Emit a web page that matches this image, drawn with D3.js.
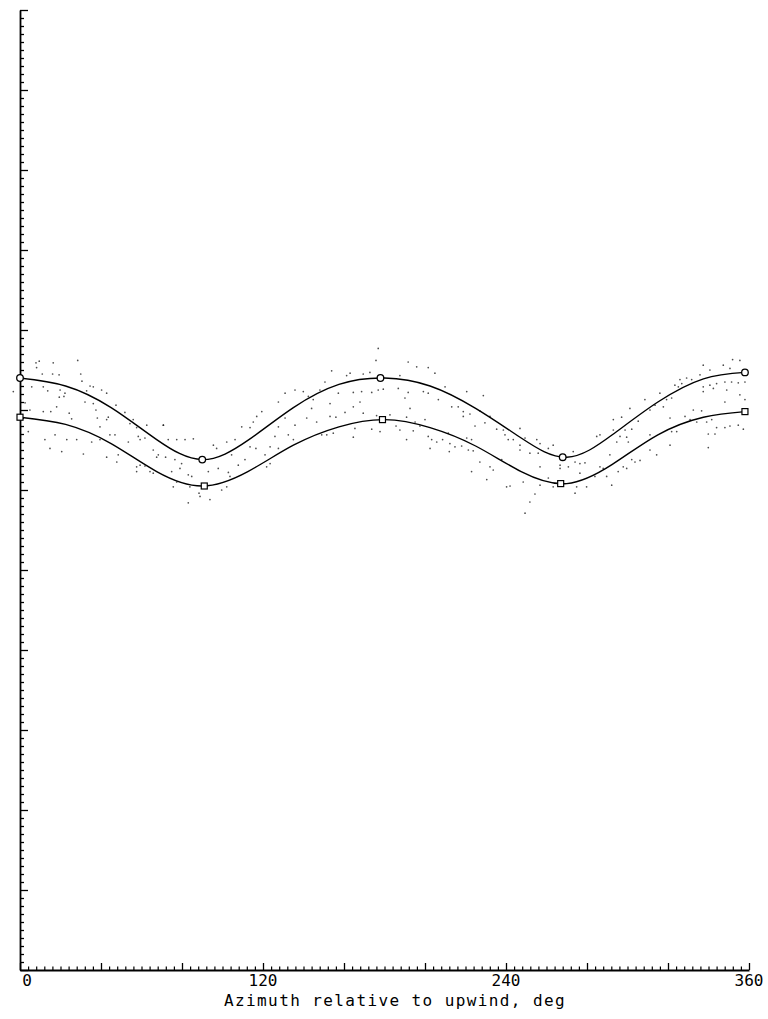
<!DOCTYPE html>
<html>
<head>
<meta charset="utf-8">
<script src="https://cdn.jsdelivr.net/npm/d3@7"></script>
<style>
	body { margin: 0; background: #fff; }
	svg { display: block; }
	.axis path, .axis line { stroke: #000; }
	.label { font-family: 'DejaVu Sans Mono', monospace; font-size: 16px; fill: #000; }
</style>
</head>
<body>
<svg id="chart"></svg>
<script>

// tick labels on the azimuth axis
const xTickLabels = [0, 120, 240, 360]

// faired curves (azimuth deg, value)
const upperCurve = [
	[0, 7.40], [22.5, 7.30], [45, 7.03], [67.5, 6.63], [90, 6.38], [112.5, 6.62],
	[135, 7.03], [157.5, 7.32], [180, 7.40], [202.5, 7.30], [225, 7.02], [247.5, 6.65],
	[270, 6.41], [292.5, 6.69], [315, 7.10], [337.5, 7.39], [358, 7.47]
]

const lowerCurve = [
	[0, 6.91], [22.5, 6.82], [45, 6.58], [67.5, 6.23], [90, 6.05], [112.5, 6.23],
	[135, 6.56], [157.5, 6.79], [180, 6.88], [202.5, 6.78], [225, 6.55], [247.5, 6.23],
	[270, 6.08], [292.5, 6.32], [315, 6.69], [337.5, 6.91], [358, 6.98]
]

// symbols on the curves
const upperMarks = [[0, 7.40], [90, 6.38], [178, 7.40], [268, 6.41], [358, 7.47]]
const lowerMarks = [[0, 6.91], [91, 6.05], [179, 6.88], [267, 6.08], [358, 6.98]]

// raw scatter (azimuth deg, value)
const dots = [
	[7.9,7.59],[9.5,7.61],[16.4,7.59],[28.5,7.62],[8.2,7.53],[11.0,7.45],[16.1,7.45],[19.3,7.44],
	[30.6,7.36],[30.0,7.45],[-3.3,7.23],[5.8,7.29],[11.5,7.29],[13.7,7.24],[19.8,7.25],[22.2,7.21],
	[19.4,7.16],[21.7,7.17],[34.6,7.30],[36.2,7.29],[32.9,7.24],[40.3,7.25],[42.8,7.21],[32.1,7.10],
	[36.2,7.08],[2.5,7.09],[4.9,7.00],[11.5,6.98],[18.1,7.04],[24.3,6.96],[25.5,6.89],[15.2,6.98],
	[37.5,7.00],[42.8,6.88],[43.6,6.91],[47.4,7.06],[51.8,6.97],[54.3,6.83],[55.9,6.88],[57.6,6.78],
	[62.6,6.81],[70.8,6.81],[38.2,6.90],[39.5,6.79],[44.4,6.69],[46.9,6.69],[39.5,6.63],[35.4,6.60],
	[28.0,6.63],[23.1,6.63],[12.3,6.63],[17.3,6.69],[14.8,6.52],[20.6,6.48],[31.3,6.45],[42.8,6.41],
	[48.5,6.44],[53.5,6.60],[58.4,6.67],[59.3,6.63],[61.7,6.65],[65.8,6.50],[67.5,6.41],[57.6,6.29],
	[59.3,6.31],[61.7,6.30],[57.6,6.23],[64.2,6.23],[65.8,6.21],[68.3,6.44],[4.1,6.73],[47.8,6.35],
	[70.8,6.81],[73.2,6.63],[77.4,6.63],[81.5,6.63],[85.6,6.64],[71.9,6.41],[76.5,6.38],[79.8,6.33],
	[79.0,6.27],[74.9,6.23],[83.1,6.19],[84.8,6.17],[77.4,6.10],[75.7,6.04],[83.9,6.04],[88.4,5.96],
	[88.9,5.92],[83.1,5.84],[93.8,5.88],[99.6,6.00],[102.1,6.04],[93.0,6.23],[97.9,6.27],[102.9,6.22],
	[103.7,6.17],[107.8,6.31],[111.1,6.38],[104.5,6.44],[109.5,6.79],[113.6,6.78],[115.2,6.85],[119.4,6.98],
	[116.9,6.92],[116.5,6.52],[113.6,6.54],[121.0,6.44],[123.5,6.54],[125.9,6.67],[127.6,6.52],[123.5,6.33],
	[121.8,6.29],[130.9,7.21],[127.6,7.10],[135.8,7.25],[139.9,7.23],[142.4,7.17],[144.0,7.02],[141.6,6.90],
	[135.8,6.81],[132.5,6.69],[135.0,6.63],[127.6,6.79],[130.9,6.90],[106.2,6.63],[102.1,6.60],[95.5,6.56],
	[97.1,6.52],
	[176.9,7.77],[175.8,7.62],[191.7,7.60],[195.9,7.54],[201.6,7.53],[204.9,7.46],[153.9,7.49],[163.0,7.46],
	[161.3,7.43],[169.5,7.45],[172.8,7.47],[187.6,7.43],[150.6,7.35],[148.1,7.25],[157.2,7.21],[164.6,7.22],
	[168.7,7.23],[173.7,7.22],[176.9,7.25],[179.4,7.26],[186.8,7.27],[191.7,7.22],[199.2,7.23],[201.6,7.21],
	[209.9,7.29],[206.6,7.13],[190.1,7.15],[167.9,7.10],[153.1,7.08],[144.8,7.13],[164.6,7.04],[192.6,7.02],
	[213.2,7.04],[216.4,7.04],[218.9,6.98],[218.9,6.92],[153.1,6.92],[156.0,6.91],[160.5,6.97],[169.5,6.96],
	[176.1,6.93],[182.7,6.94],[190.9,6.91],[195.1,6.85],[200.0,6.88],[146.5,6.85],[149.0,6.69],[151.5,6.69],
	[154.7,6.71],[164.6,6.66],[165.4,6.77],[173.7,6.76],[177.8,6.73],[185.7,6.80],[187.6,6.75],[194.2,6.74],
	[197.5,6.80],[201.6,6.67],[203.3,6.63],[205.8,6.60],[208.7,6.63],[211.5,6.71],[212.3,6.58],[202.5,6.52],
	[212.0,6.48],[214.8,6.54],[190.9,6.63],
	[220.6,7.23],[228.8,7.18],[222.2,6.95],[227.1,6.99],[232.1,6.92],[229.6,6.84],[224.7,6.80],[235.4,6.76],
	[238.7,6.75],[246.9,6.77],[220.6,6.65],[223.0,6.63],[218.1,6.55],[223.8,6.49],[221.4,6.50],[239.5,6.69],
	[243.6,6.63],[241.1,6.63],[246.9,6.56],[249.4,6.65],[255.2,6.63],[256.8,6.58],[246.9,6.50],[251.8,6.46],
	[255.9,6.46],[260.9,6.52],[263.3,6.56],[273.2,6.48],[274.1,6.35],[276.5,6.33],[279.0,6.34],[266.7,6.31],
	[266.7,6.27],[270.8,6.29],[284.8,6.67],[286.4,6.69],[293.0,6.88],[293.0,6.75],[291.3,6.44],[286.4,6.29],
	[288.0,6.27],[283.9,6.17],[289.7,6.17],[276.5,6.21],[279.8,6.04],[274.9,6.04],[274.1,5.96],[263.3,6.04],
	[256.8,6.06],[254.3,5.95],[251.8,5.85],[249.4,5.71],[240.3,6.04],[242.0,6.05],[248.5,6.10],[230.5,6.13],
	[223.0,6.23],[232.1,6.29],[233.7,6.25],[237.9,6.38],[227.1,6.35],[260.9,6.15],[256.8,6.29],
	[351.9,7.63],[355.5,7.62],[347.3,7.56],[337.4,7.56],[340.7,7.50],[350.6,7.52],[335.8,7.44],[331.7,7.38],
	[329.2,7.40],[325.9,7.38],[326.8,7.33],[323.4,7.31],[325.1,7.29],[337.4,7.29],[340.7,7.31],[344.0,7.33],
	[348.1,7.35],[351.4,7.35],[354.7,7.34],[358.0,7.35],[316.0,7.21],[319.3,7.13],[321.8,7.15],[308.6,7.13],
	[313.6,7.06],[317.7,7.04],[311.1,7.00],[337.4,7.23],[342.4,7.27],[349.0,7.25],[355.5,7.19],[348.1,7.10],
	[358.0,7.13],[301.2,7.02],[297.1,6.91],[305.3,6.86],[298.8,6.75],[302.1,6.76],[296.3,6.67],[299.6,6.66],
	[300.4,6.60],[294.7,6.60],[321.0,6.90],[328.4,6.92],[332.5,7.00],[336.6,6.99],[330.9,6.88],[334.2,6.85],
	[339.1,6.85],[341.6,6.88],[344.0,6.78],[348.1,6.78],[350.6,6.80],[354.7,6.81],[357.2,6.76],[339.9,6.70],
	[343.2,6.70],[311.1,6.69],[321.8,6.73],[324.3,6.73],[321.0,6.56],[311.1,6.50],[314.4,6.44],[339.9,6.53],
	[302.1,6.38],[303.7,6.35],[306.2,6.37],[297.9,6.29],[299.6,6.27],[295.4,6.23],[292.2,6.06]
]

const outerWidth = 768
const outerHeight = 1019

const svg = d3.select('#chart')
	.attr('width', outerWidth)
	.attr('height', outerHeight)

// scales
const x = d3.scaleLinear().domain([0, 360]).range([20, 749])
const y = d3.scaleLinear().domain([0, 12]).range([970, 10])

// tick positions: majors every 40 deg / 1 unit, minors every 4 deg / 0.1 unit
const xMajor = d3.range(0, 361, 40)
const xMinor = d3.range(0, 361, 4).filter(d => d % 40 !== 0)
const yMajor = d3.range(0, 13, 1)
const yMinor = d3.range(0, 120).map(d => d / 10).filter((d, i) => i % 10 !== 0)

// left axis, ticks pointing into the plot
const yAxisG = svg.append('g')
	.attr('class', 'axis axis--y')
	.attr('transform', `translate(${x(0)}, 0)`)

yAxisG.call(d3.axisRight(y).tickValues(yMinor).tickSize(4).tickSizeOuter(0).tickFormat(''))
yAxisG.select('.domain').attr('stroke-width', 1.8)
yAxisG.selectAll('line').attr('stroke-width', 1.3)

svg.append('g')
	.attr('class', 'axis')
	.attr('transform', `translate(${x(0)}, 0)`)
	.call(d3.axisRight(y).tickValues(yMajor).tickSize(8).tickSizeOuter(0).tickFormat(''))
	.call(g => g.select('.domain').remove())
	.selectAll('line').attr('stroke-width', 1.3)

// bottom axis, ticks pointing up
const xAxisG = svg.append('g')
	.attr('class', 'axis axis--x')
	.attr('transform', `translate(0, ${y(0)})`)

xAxisG.call(d3.axisTop(x).tickValues(xMinor).tickSize(3.5).tickSizeOuter(0).tickFormat(''))
xAxisG.select('.domain').attr('stroke-width', 1.8)
xAxisG.selectAll('line').attr('stroke-width', 1.2)

svg.append('g')
	.attr('class', 'axis')
	.attr('transform', `translate(0, ${y(0)})`)
	.call(d3.axisTop(x).tickValues(xMajor).tickSize(7).tickSizeOuter(0).tickFormat(''))
	.call(g => g.select('.domain').remove())
	.selectAll('line').attr('stroke-width', 1.3)

// tick labels
svg.append('g')
	.selectAll('text')
	.data(xTickLabels)
	.join('text')
	.attr('class', 'label')
	.attr('x', d => d === 0 ? x(d) + 7 : x(d))
	.attr('y', 986)
	.attr('text-anchor', 'middle')
	.text(d => d)

// axis title
svg.append('text')
	.attr('class', 'label')
	.attr('x', 395)
	.attr('y', 1006)
	.attr('text-anchor', 'middle')
	.style('letter-spacing', '1.4px')
	.text('Azimuth relative to upwind, deg')

// scatter
svg.append('g')
	.selectAll('circle')
	.data(dots)
	.join('circle')
	.attr('cx', d => x(d[0]))
	.attr('cy', d => y(d[1]))
	.attr('r', 0.85)
	.attr('fill', '#222')
	.attr('opacity', 0.8)

// curves
const line = d3.line()
	.x(d => x(d[0]))
	.y(d => y(d[1]))
	.curve(d3.curveNatural)

svg.selectAll('path.curve')
	.data([upperCurve, lowerCurve])
	.join('path')
	.attr('class', 'curve')
	.attr('d', line)
	.attr('fill', 'none')
	.attr('stroke', '#000')
	.attr('stroke-width', 1.4)

// symbols
svg.append('g')
	.selectAll('circle')
	.data(upperMarks)
	.join('circle')
	.attr('cx', d => x(d[0]))
	.attr('cy', d => y(d[1]))
	.attr('r', 3.3)
	.attr('fill', '#fff')
	.attr('stroke', '#000')
	.attr('stroke-width', 1.3)

svg.append('g')
	.selectAll('rect')
	.data(lowerMarks)
	.join('rect')
	.attr('x', d => x(d[0]) - 3)
	.attr('y', d => y(d[1]) - 3)
	.attr('width', 6)
	.attr('height', 6)
	.attr('fill', '#fff')
	.attr('stroke', '#000')
	.attr('stroke-width', 1.2)

</script>
</body>
</html>
